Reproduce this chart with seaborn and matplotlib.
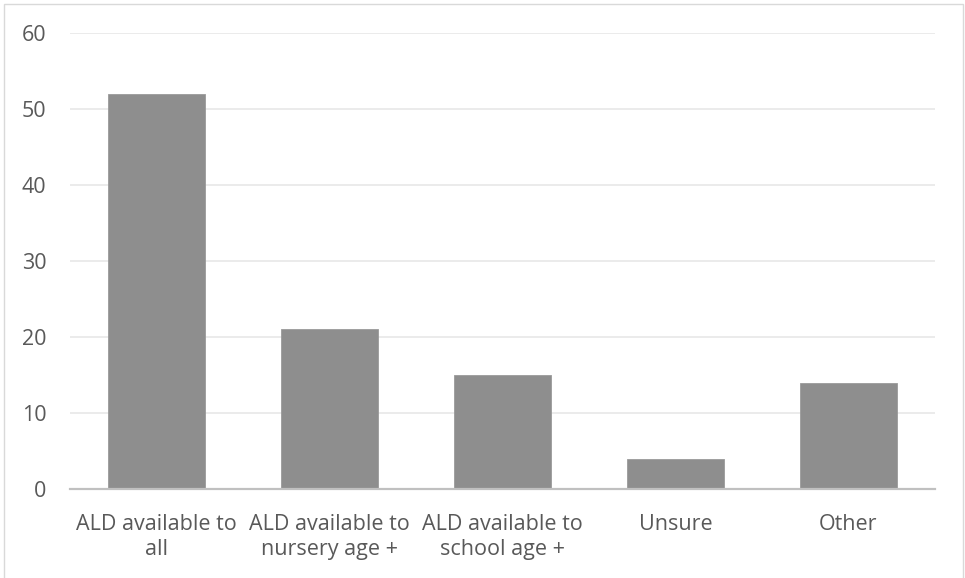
import matplotlib
matplotlib.use("Agg")
import matplotlib.pyplot as plt
from matplotlib.patches import Rectangle
import seaborn as sns
import pandas as pd

categories = ["ALD available to\nall", "ALD available to\nnursery age +",
              "ALD available to\nschool age +", "Unsure", "Other"]
values = [52, 21, 15, 4, 14]
y_ticks = [0, 10, 20, 30, 40, 50, 60]

sns.set_theme(style="white")
plt.rcParams["font.family"] = ["Open Sans", "DejaVu Sans"]

df = pd.DataFrame({"category": categories, "value": values})

W, H = 965, 578
fig = plt.figure(figsize=(W / 100, H / 100), dpi=100)
ax = fig.add_axes([70 / W, 1 - 489 / H, (935 - 70) / W, (489 - 33) / H])

sns.barplot(data=df, x="category", y="value", color="#8e8e8e",
            width=0.555, saturation=1, ax=ax, edgecolor="#9a9a9a", linewidth=0.6)

ax.set_ylim(0, 60)
ax.set_xlim(-0.5, len(categories) - 0.5)
ax.set_yticks(y_ticks)
ax.yaxis.grid(True, color="#e6e6e6", linewidth=1.1)
ax.set_axisbelow(True)
ax.set_xlabel("")
ax.set_ylabel("")

for side in ["left", "right", "top"]:
    ax.spines[side].set_visible(False)
ax.spines["bottom"].set_color("#c0c0c0")
ax.spines["bottom"].set_linewidth(1.6)
ax.spines["bottom"].set_zorder(5)

ax.tick_params(axis="y", length=0, pad=17, labelsize=15.5, labelcolor="#595959")
ax.tick_params(axis="x", length=0, pad=18, labelsize=15.5, labelcolor="#595959")
for lbl in ax.get_xticklabels():
    lbl.set_linespacing(1.22)

# light frame around the chart area
fig.add_artist(Rectangle((4 / W, -0.02), (963 - 4) / W, (H - 4) / H + 0.02,
                         transform=fig.transFigure, fill=False,
                         edgecolor="#d9d9d9", linewidth=1.0))

fig.savefig("out.png", dpi=100, facecolor="white")
